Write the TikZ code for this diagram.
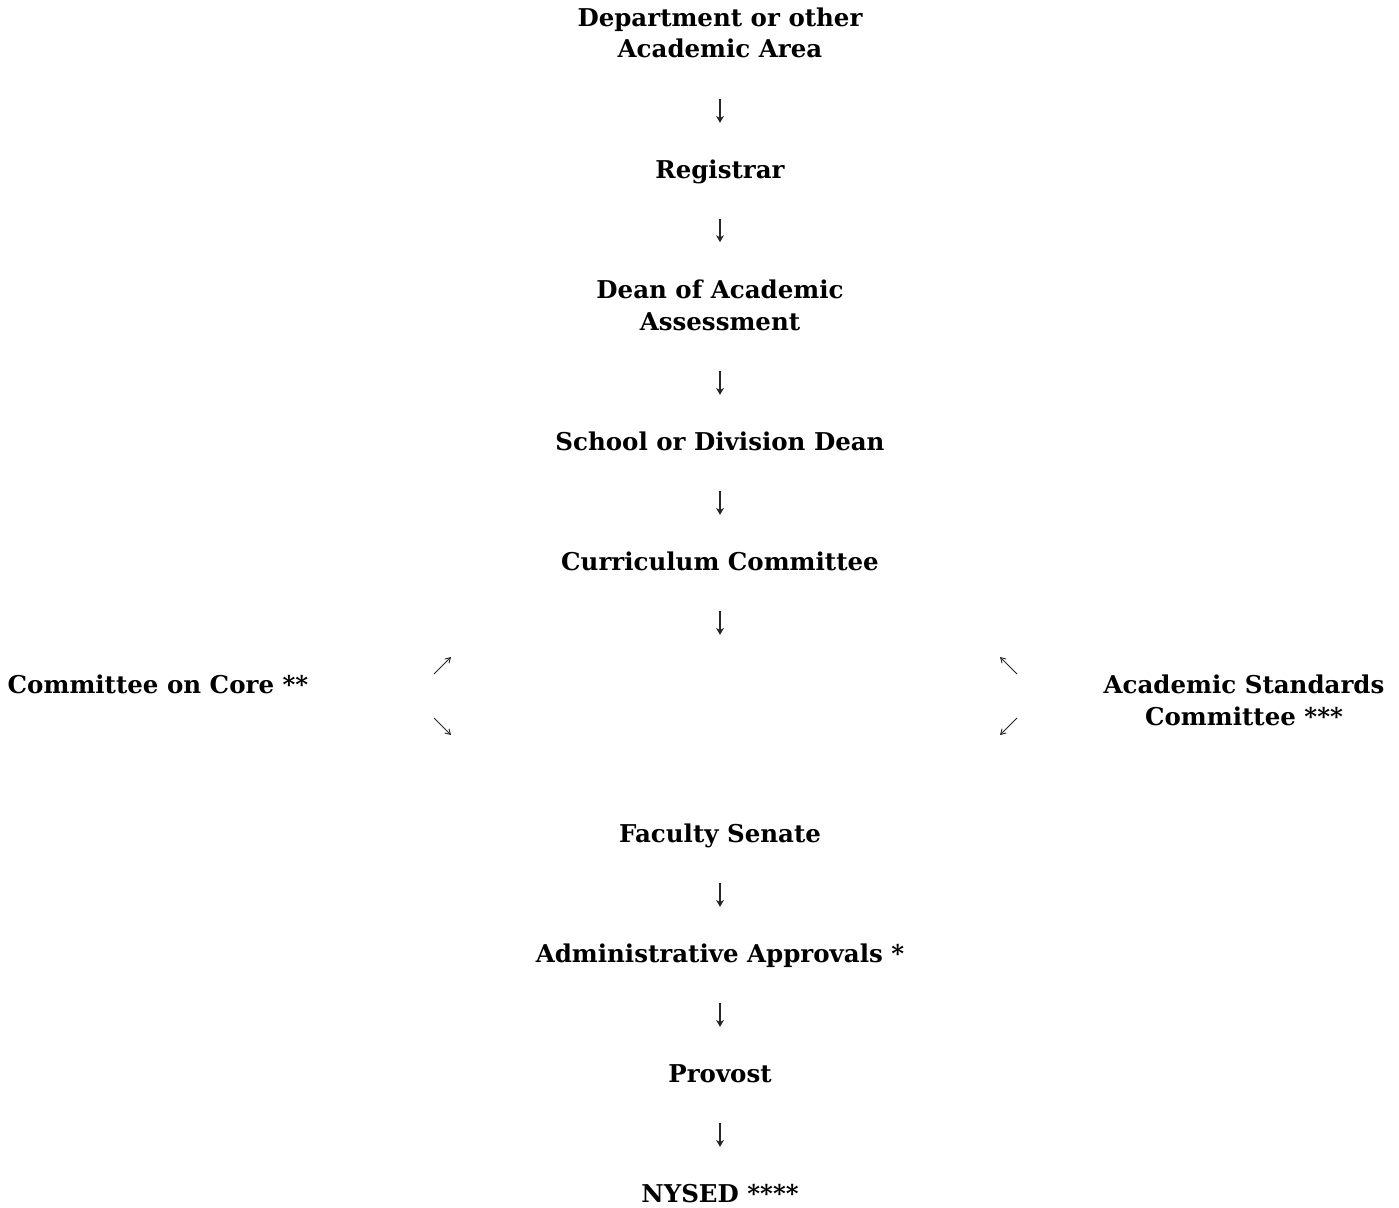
\documentclass[tikz,border=0pt]{standalone}
\usepackage{fontspec}
\setmainfont{DejaVu Serif}
\usetikzlibrary{arrows.meta}
\tikzset{
  entry/.style={font=\fontsize{24.5}{32}\selectfont\bfseries, inner sep=0pt, align=center, anchor=base, text depth=0pt},
  oneline/.style={entry, text height=17.9pt},
  flow/.style={-{Stealth[length=7pt,width=8pt]}, line width=1.2pt, black!85, shorten <=41pt, shorten >=37pt},
  turn/.style={-{Straight Barb[length=5pt,width=6pt]}, line width=0.9pt, black!85}
}
\begin{document}
\begin{tikzpicture}[x=1pt,y=-1pt]
\useasboundingbox (0,0) rectangle (1399,1207);
\node[entry] (dept) at (720,58) {Department or other\\Academic Area};
\node[oneline] (reg) at (720,178) {Registrar};
\node[entry] (dean) at (720,330) {Dean of Academic\\Assessment};
\node[oneline] (school) at (720,450) {School or Division Dean};
\node[oneline] (curr) at (720,570) {Curriculum Committee};
\node[oneline] (core) at (158,693) {Committee on Core **};
\node[entry] (stand) at (1244,725) {Academic Standards\\Committee ***};
\node[oneline] (senate) at (720,842) {Faculty Senate};
\node[oneline] (admin) at (720,962) {Administrative Approvals *};
\node[oneline] (prov) at (720,1082) {Provost};
\node[oneline] (nysed) at (720,1202) {NYSED ****};
% short arrows between the steps
\draw[flow] (dept) -- (reg);
\draw[flow] (reg) -- (dean);
\draw[flow] (dean) -- (school);
\draw[flow] (school) -- (curr);
\draw[flow, shorten >=189pt] (curr) -- (senate);
\draw[flow] (senate) -- (admin);
\draw[flow] (admin) -- (prov);
\draw[flow] (prov) -- (nysed);
% side committees
\coordinate (coreup) at (434,674);
\coordinate (coreupend) at (451,657);
\coordinate (coredown) at (434,718);
\coordinate (coredownend) at (451,735);
\coordinate (standup) at (1017,674);
\coordinate (standupend) at (1000,657);
\coordinate (standdown) at (1017,718);
\coordinate (standdownend) at (1000,735);
\draw[turn] (coreup) -- (coreupend);
\draw[turn] (coredown) -- (coredownend);
\draw[turn] (standup) -- (standupend);
\draw[turn] (standdown) -- (standdownend);
\end{tikzpicture}
\end{document}
